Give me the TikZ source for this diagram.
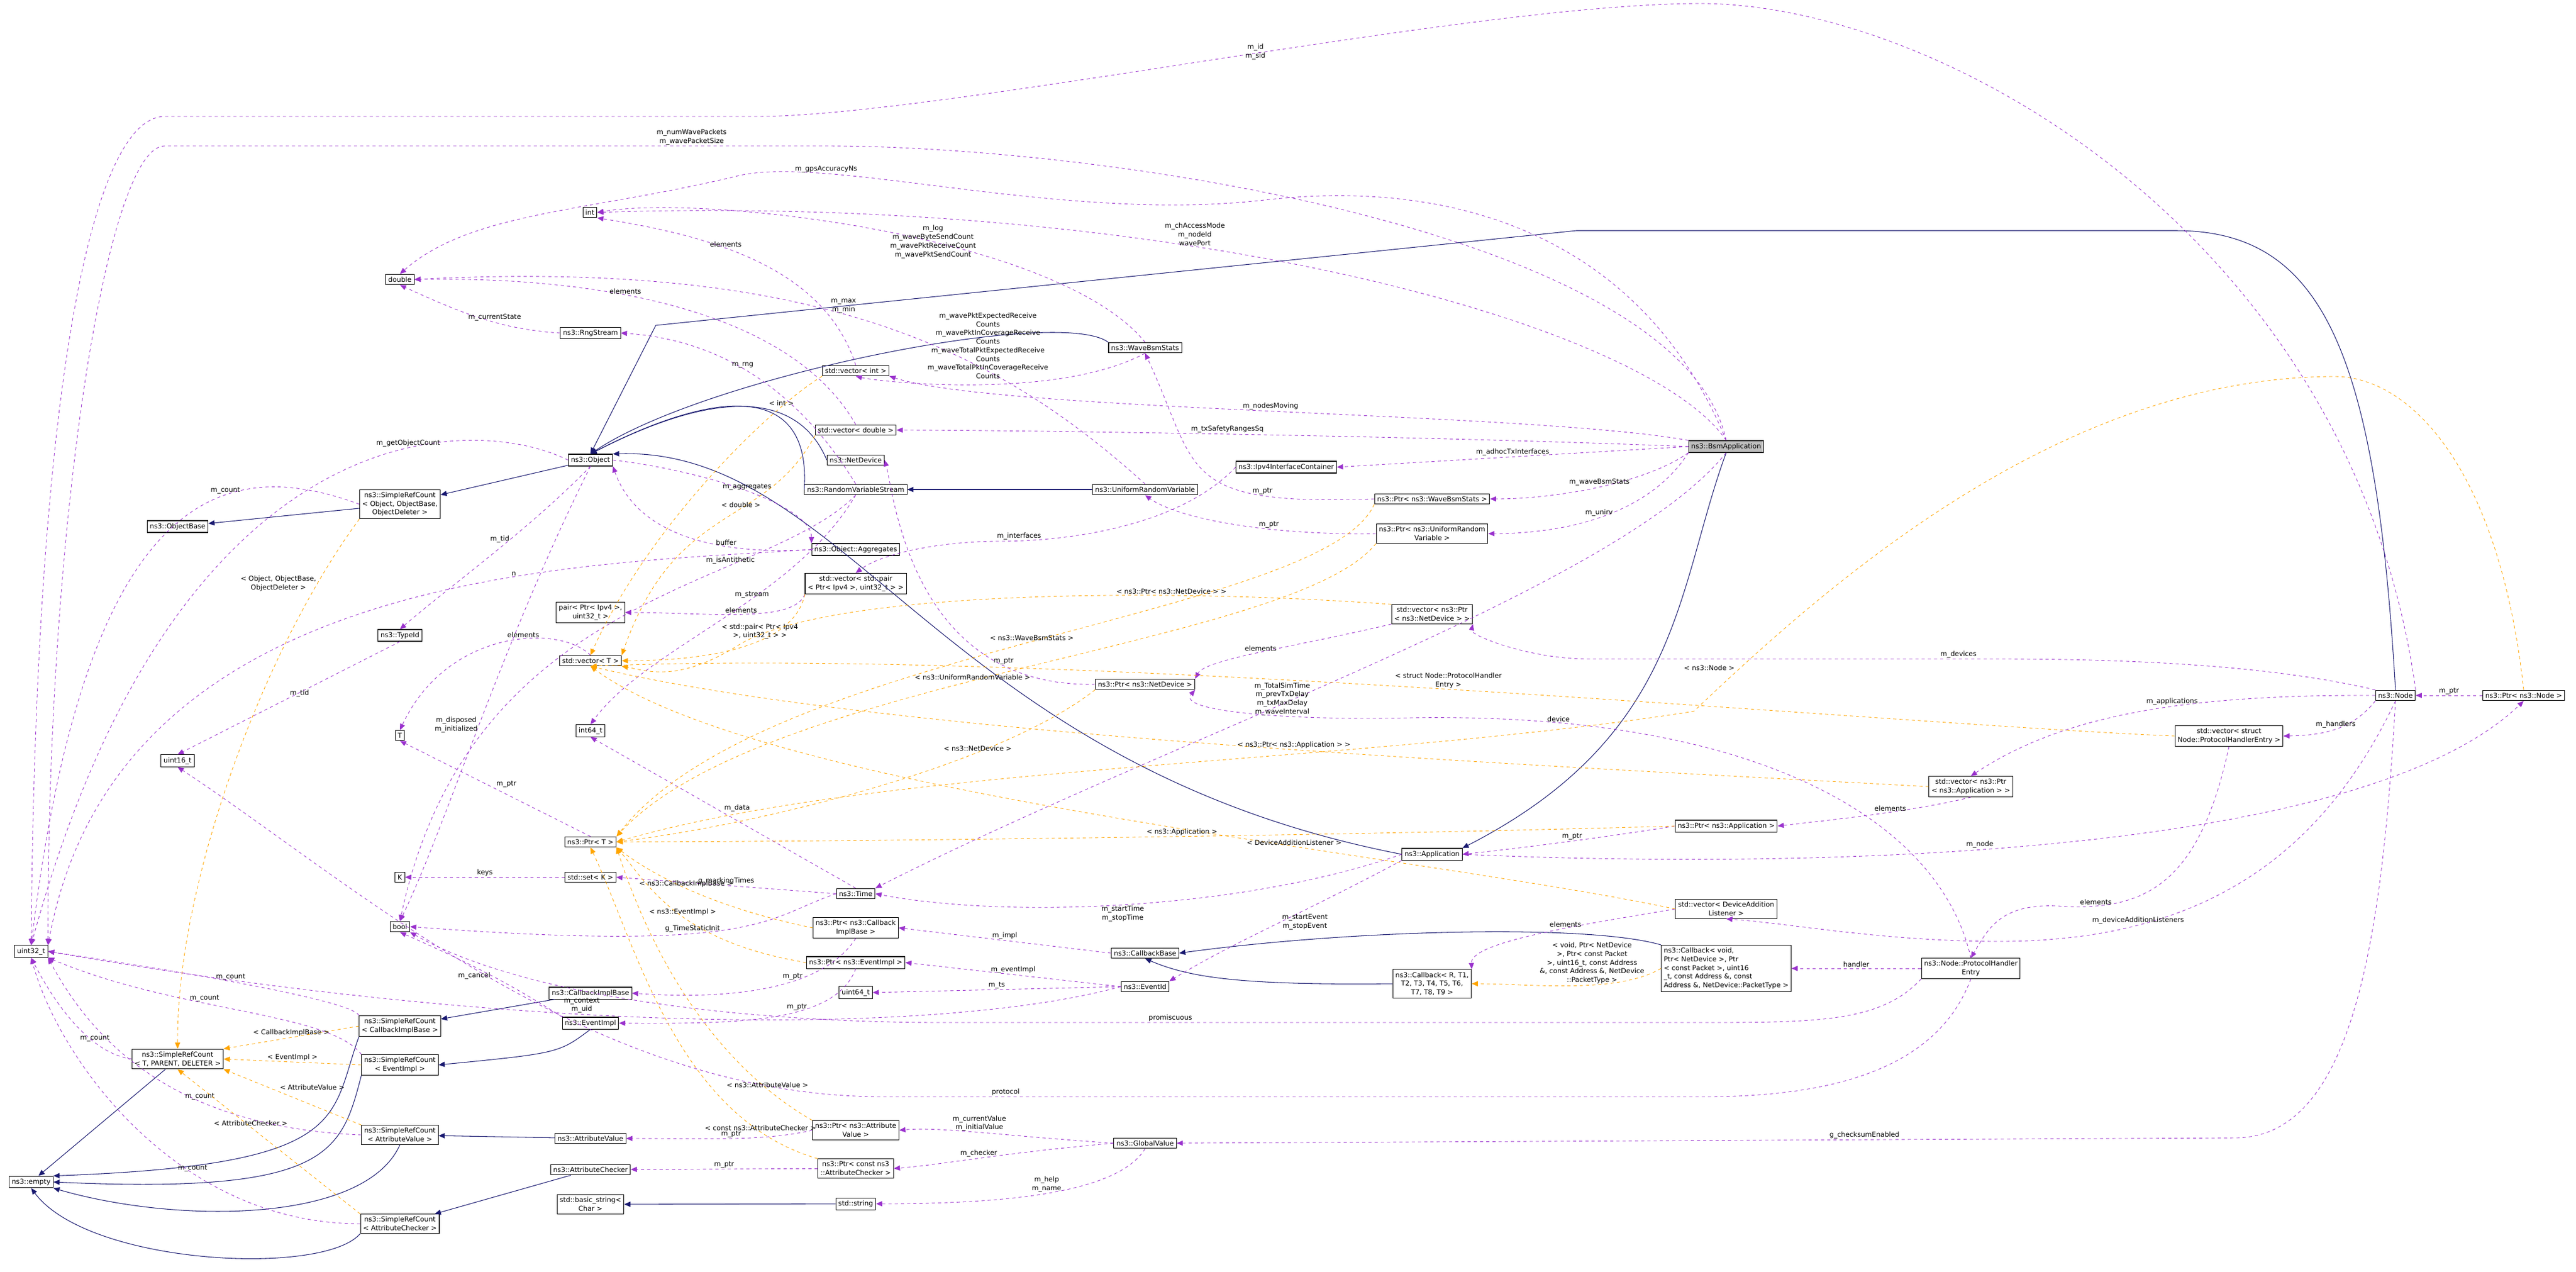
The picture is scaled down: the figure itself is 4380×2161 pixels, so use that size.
\documentclass[tikz,border=0pt]{standalone}
\usepackage{fontspec}
\setmainfont{DejaVu Sans}
\usepackage{tikz}
\usetikzlibrary{arrows.meta}
\definecolor{usecol}{HTML}{9A32CD}
\definecolor{inhcol}{HTML}{191970}
\definecolor{tplcol}{HTML}{FFA500}
\tikzset{
  cls/.style={draw,fill=white,line width=0.6pt,align=center,inner sep=2.5pt,
    font=\fontsize{6.6}{8.4}\selectfont},
  lbl/.style={font=\fontsize{6.6}{8.4}\selectfont,align=center,inner sep=1pt},
  inh/.style={draw=inhcol,line width=0.6pt,-{Triangle[length=6pt,width=5pt]}},
  use/.style={draw=usecol,dashed,line width=0.5pt,-{Triangle[length=6pt,width=5pt]}},
  tpl/.style={draw=tplcol,dashed,line width=0.5pt,-{Triangle[length=6pt,width=5pt]}}
}
\begin{document}
\begin{tikzpicture}[x=0.02cm,y=-0.02cm]
  \useasboundingbox (0,0) rectangle (4380,2161);

  \node[cls,fill=gray!50] (bsm) at (2935,759) {ns3::BsmApplication};
  \node[cls] (obj) at (1004,782) {ns3::Object};
  \node[cls] (srcobj) at (680,857) {ns3::SimpleRefCount\\< Object, ObjectBase,\\ObjectDeleter >};
  \node[cls] (objbase) at (302,895) {ns3::ObjectBase};
  \node[cls] (typeid) at (680,1080) {ns3::TypeId};
  \node[cls] (uint16) at (302,1293) {uint16\_t};
  \node[cls] (T) at (680,1250) {T};
  \node[cls] (int64) at (1004,1242) {int64\_t};
  \node[cls] (ptrT) at (1004,1431) {ns3::Ptr< T >};
  \node[cls] (K) at (680,1491) {K};
  \node[cls] (setK) at (1004,1491) {std::set< K >};
  \node[cls] (bool) at (680,1575) {bool};
  \node[cls] (uint32) at (53,1617) {uint32\_t};
  \node[cls] (empty) at (53,2009) {ns3::empty};
  \node[cls] (srctpd) at (302,1800) {ns3::SimpleRefCount\\< T, PARENT, DELETER >};
  \node[cls] (srccb) at (680,1744) {ns3::SimpleRefCount\\< CallbackImplBase >};
  \node[cls] (srcev) at (680,1810) {ns3::SimpleRefCount\\< EventImpl >};
  \node[cls] (srcav) at (680,1929) {ns3::SimpleRefCount\\< AttributeValue >};
  \node[cls] (srcac) at (680,2080) {ns3::SimpleRefCount\\< AttributeChecker >};
  \node[cls] (cbimpl) at (1004,1688) {ns3::CallbackImplBase};
  \node[cls] (evimpl) at (1004,1739) {ns3::EventImpl};
  \node[cls] (attrval) at (1004,1935) {ns3::AttributeValue};
  \node[cls] (attrchk) at (1004,1988) {ns3::AttributeChecker};
  \node[cls] (bstring) at (1004,2047) {std::basic\_string<\\Char >};
  \node[cls] (int) at (1003,361) {int};
  \node[cls] (double) at (680,475) {double};
  \node[cls] (rng) at (1004,566) {ns3::RngStream};
  \node[cls] (pair) at (1004,1041) {pair< Ptr< Ipv4 >,\\uint32\_t >};
  \node[cls] (vecT) at (1004,1123) {std::vector< T >};
  \node[cls] (vecint) at (1455,630) {std::vector< int >};
  \node[cls] (vecdbl) at (1455,731) {std::vector< double >};
  \node[cls] (netdev) at (1455,782) {ns3::NetDevice};
  \node[cls] (rvs) at (1455,832) {ns3::RandomVariableStream};
  \node[cls] (aggr) at (1455,934) {ns3::Object::Aggregates};
  \node[cls] (vecpair) at (1455,992) {std::vector< std::pair\\< Ptr< Ipv4 >, uint32\_t > >};
  \node[cls] (time) at (1455,1519) {ns3::Time};
  \node[cls] (ptrcb) at (1455,1577) {ns3::Ptr< ns3::Callback\\ImplBase >};
  \node[cls] (ptrev) at (1455,1636) {ns3::Ptr< ns3::EventImpl >};
  \node[cls] (uint64) at (1455,1687) {uint64\_t};
  \node[cls] (ptrav) at (1455,1921) {ns3::Ptr< ns3::Attribute\\Value >};
  \node[cls] (ptrac) at (1455,1986) {ns3::Ptr< const ns3\\::AttributeChecker >};
  \node[cls] (string) at (1455,2046) {std::string};
  \node[cls] (wbs) at (1947,591) {ns3::WaveBsmStats};
  \node[cls] (urv) at (1947,832) {ns3::UniformRandomVariable};
  \node[cls] (ptrnd) at (1947,1163) {ns3::Ptr< ns3::NetDevice >};
  \node[cls] (cbbase) at (1947,1620) {ns3::CallbackBase};
  \node[cls] (eventid) at (1947,1677) {ns3::EventId};
  \node[cls] (global) at (1947,1943) {ns3::GlobalValue};
  \node[cls] (ipv4) at (2187,794) {ns3::Ipv4InterfaceContainer};
  \node[cls] (ptrwbs) at (2435,848) {ns3::Ptr< ns3::WaveBsmStats >};
  \node[cls] (ptrurv) at (2435,907) {ns3::Ptr< ns3::UniformRandom\\Variable >};
  \node[cls] (vecptrnd) at (2435,1044) {std::vector< ns3::Ptr\\< ns3::NetDevice > >};
  \node[cls] (app) at (2435,1452) {ns3::Application};
  \node[cls] (cbr) at (2435,1672) {ns3::Callback< R, T1,\\T2, T3, T4, T5, T6,\\T7, T8, T9 >};
  \node[cls] (ptrapp) at (2935,1404) {ns3::Ptr< ns3::Application >};
  \node[cls] (vecdal) at (2935,1545) {std::vector< DeviceAddition\\Listener >};
  \node[cls,align=left] (cbvoid) at (2935,1646) {ns3::Callback< void,\\ Ptr< NetDevice >, Ptr\\< const Packet >, uint16\\\_t, const Address \&, const\\ Address \&, NetDevice::PacketType >};
  \node[cls] (vecapp) at (3351,1337) {std::vector< ns3::Ptr\\< ns3::Application > >};
  \node[cls] (phe) at (3351,1646) {ns3::Node::ProtocolHandler\\Entry};
  \node[cls] (vecphe) at (3790,1251) {std::vector< struct\\Node::ProtocolHandlerEntry >};
  \node[cls] (node) at (4073,1182) {ns3::Node};
  \node[cls] (ptrnode) at (4291,1182) {ns3::Ptr< ns3::Node >};

  % inheritance
  \draw[inh] (bsm.south) .. controls (2850,1000) and (2860,1250) .. (app.north east);
  \draw[inh] (app.west) .. controls (1600,1300) and (1440,760) .. (obj.north east);
  \draw[inh] (wbs.north west) .. controls (1800,520) and (1200,640) .. (obj.north);
  \draw[inh] (netdev.west) .. controls (1380,720) and (1300,620) .. (obj.north);
  \draw[inh] (rvs.west) .. controls (1380,650) and (1220,660) .. (obj.north);
  \draw[inh] (node.north) .. controls (4040,600) and (3950,392) .. (3700,392)
    -- (2680,392) -- (1115,553) -- (obj.north);
  \draw[inh] (urv) -- (rvs);
  \draw[inh] (obj) -- (srcobj);
  \draw[inh] (srcobj) -- (objbase);
  \draw[inh] (cbimpl) -- (srccb);
  \draw[inh] (evimpl.south) .. controls (950,1790) .. (srcev.east);
  \draw[inh] (attrval) -- (srcav);
  \draw[inh] (attrchk) -- (srcac);
  \draw[inh] (string) -- (bstring);
  \draw[inh] (srctpd) -- (empty);
  \draw[inh] (srccb.south west) .. controls (560,1900) and (600,1980) .. (empty.north east);
  \draw[inh] (srcev.south west) .. controls (580,1960) and (560,2030) .. (empty.east);
  \draw[inh] (srcav.south) .. controls (620,2080) and (300,2080) .. (empty.south east);
  \draw[inh] (srcac.south west) .. controls (550,2170) and (150,2150) .. (empty.south);
  \draw[inh] (cbr.west) .. controls (2100,1675) and (2020,1660) .. (cbbase.south);
  \draw[inh] (cbvoid.north west) .. controls (2700,1570) and (2300,1580) .. (cbbase.east);

  % usage
  \draw[use] (node.north east) .. controls (4000,400) and (3300,6) .. (2891,6)
    .. controls (2500,6) and (1600,198) .. node[lbl,pos=0.45,left] {m\_id\\m\_sid} (1285,198)
    -- (280,198) .. controls (150,198) and (60,700) .. (uint32.north);
  \draw[use] (bsm.north) .. controls (2860,400) and (1900,248) .. (1400,248)
    -- node[lbl,pos=0.2,above] {m\_numWavePackets\\m\_wavePacketSize} (280,248)
    .. controls (180,248) and (80,900) .. (uint32.north east);
  \draw[use] (bsm.north) .. controls (2800,420) and (2500,300) .. (2150,340)
    .. controls (1800,380) and (1400,260) .. node[lbl,pos=0.75,above] {m\_gpsAccuracyNs} (1250,300)
    .. controls (1000,360) and (800,360) .. (double.north);
  \draw[use] (bsm.north) .. controls (2800,550) and (2000,330) .. (int.east)
    node[lbl,pos=0.62,above] {m\_chAccessMode\\m\_nodeId\\wavePort};
  \draw[use] (wbs.north) .. controls (1800,400) and (1200,330) .. (int.east)
    node[lbl,pos=0.42] {m\_log\\m\_waveByteSendCount\\m\_wavePktReceiveCount\\m\_wavePktSendCount};
  \draw[use] (vecint.north) .. controls (1400,450) and (1200,400) .. (int.south east)
    node[lbl,pos=0.6,above] {elements};
  \draw[use] (urv.north) .. controls (1700,600) and (1400,440) .. (double.east)
    node[lbl,pos=0.55,above] {m\_max\\m\_min};
  \draw[use] (vecdbl.north) .. controls (1340,520) and (1000,470) .. (double.east)
    node[lbl,pos=0.6,above] {elements};
  \draw[use] (rng.west) .. controls (850,560) and (780,530) .. (double.south)
    node[lbl,pos=0.4,above] {m\_currentState};
  \draw[use] (rvs.north) .. controls (1380,700) and (1260,580) .. (rng.east)
    node[lbl,pos=0.6,above] {m\_rng};
  \draw[use] (wbs.south) .. controls (1800,680) and (1500,650) .. (vecint.south)
    node[lbl,pos=0.3,above left] {m\_wavePktExpectedReceive\\Counts\\m\_wavePktInCoverageReceive\\Counts\\m\_waveTotalPktExpectedReceive\\Counts\\m\_waveTotalPktInCoverageReceive\\Counts};
  \draw[use] (bsm.north west) .. controls (2600,700) and (1700,700) .. (vecint.south east)
    node[lbl,pos=0.5,above] {m\_nodesMoving};
  \draw[use] (bsm.west) .. controls (2400,740) and (1700,731) .. (vecdbl.east)
    node[lbl,pos=0.5,above] {m\_txSafetyRangesSq};
  \draw[use] (bsm.west) -- (ipv4.east) node[lbl,pos=0.5,above] {m\_adhocTxInterfaces};
  \draw[use] (bsm.south west) .. controls (2800,820) and (2650,848) .. (ptrwbs.east)
    node[lbl,pos=0.5,above] {m\_waveBsmStats};
  \draw[use] (bsm.south west) .. controls (2800,880) and (2650,907) .. (ptrurv.east)
    node[lbl,pos=0.5,above] {m\_unirv};
  \draw[use] (bsm.south) .. controls (2750,1000) and (2000,1250) .. (time.north east)
    node[lbl,pos=0.62,above right] {m\_TotalSimTime\\m\_prevTxDelay\\m\_txMaxDelay\\m\_waveInterval};
  \draw[use] (ptrwbs.west) .. controls (2000,860) and (2040,800) .. (wbs.south)
    node[lbl,pos=0.25,above] {m\_ptr};
  \draw[use] (ptrurv.west) .. controls (2150,910) and (2000,880) .. (urv.south)
    node[lbl,pos=0.35,above] {m\_ptr};
  \draw[use] (ptrnd.west) .. controls (1550,1170) and (1520,840) .. (netdev.east)
    node[lbl,pos=0.2,above] {m\_ptr};
  \draw[use] (ptrapp.west) .. controls (2750,1420) and (2600,1440) .. (app.east)
    node[lbl,pos=0.5,above] {m\_ptr};
  \draw[use] (ptrnode) -- (node) node[lbl,midway,above] {m\_ptr};
  \draw[use] (ipv4.west) .. controls (2000,900) and (1800,920) .. node[lbl,pos=0.9,above] {m\_interfaces} (1700,920)
    .. controls (1600,920) and (1500,940) .. (vecpair.north);
  \draw[use] (vecpair.south west) .. controls (1350,1060) and (1200,1041) .. (pair.east)
    node[lbl,pos=0.5,above] {elements};
  \draw[use] (obj.east) .. controls (1200,800) and (1380,860) .. (aggr.north west)
    node[lbl,pos=0.5,above] {m\_aggregates};
  \draw[use] (aggr.west) .. controls (1200,945) and (1080,900) .. (obj.south east)
    node[lbl,pos=0.3,above] {buffer};
  \draw[use] (aggr.west) .. controls (1000,960) and (200,960) .. (uint32.north east)
    node[lbl,pos=0.35,above] {n};
  \draw[use] (obj.west) .. controls (800,700) and (300,700) .. (uint32.north)
    node[lbl,pos=0.35,above] {m\_getObjectCount};
  \draw[use] (srcobj.west) .. controls (400,780) and (150,800) .. (uint32.north)
    node[lbl,pos=0.35,above] {m\_count};
  \draw[use] (obj.south) .. controls (900,900) and (760,1000) .. (typeid.north)
    node[lbl,pos=0.4,left] {m\_tid};
  \draw[use] (typeid.south) -- (uint16.north) node[lbl,midway,above right] {m\_tid};
  \draw[use] (rvs.south) .. controls (1300,1000) and (800,1000) .. (bool.north)
    node[lbl,pos=0.3,above] {m\_isAntithetic};
  \draw[use] (obj.south) .. controls (850,1100) and (760,1400) .. (bool.north)
    node[lbl,pos=0.5,left] {m\_disposed\\m\_initialized};
  \draw[use] (rvs.south) .. controls (1350,1020) and (1100,1100) .. (int64.north)
    node[lbl,pos=0.4,above] {m\_stream};
  \draw[use] (vecT.north) .. controls (950,1060) and (760,1070) .. (T.north)
    node[lbl,pos=0.4,above] {elements};
  \draw[use] (ptrT.north) -- (T.south) node[lbl,midway,above right] {m\_ptr};
  \draw[use] (time.north) -- (int64.south) node[lbl,midway,above right] {m\_data};
  \draw[use] (time.west) -- (setK.east) node[lbl,midway,above] {g\_markingTimes};
  \draw[use] (setK) -- (K) node[lbl,midway,above] {keys};
  \draw[use] (time.west) .. controls (1300,1560) and (1300,1620) .. (bool.east)
    node[lbl,pos=0.6,above] {g\_TimeStaticInit};
  \draw[use] (evimpl.north west) .. controls (850,1660) and (760,1620) .. (bool.south)
    node[lbl,pos=0.4,left] {m\_cancel};
  \draw[use] (ptrcb.south) .. controls (1400,1680) and (1250,1700) .. (cbimpl.east)
    node[lbl,pos=0.4,above] {m\_ptr};
  \draw[use] (ptrev.south) .. controls (1420,1740) and (1250,1740) .. (evimpl.east)
    node[lbl,pos=0.4,above] {m\_ptr};
  \draw[use] (ptrav.west) .. controls (1300,1940) and (1200,1935) .. (attrval.east)
    node[lbl,pos=0.5,above] {m\_ptr};
  \draw[use] (ptrac) -- (attrchk) node[lbl,midway,above] {m\_ptr};
  \draw[use] (cbbase.west) -- (ptrcb.east) node[lbl,midway,above] {m\_impl};
  \draw[use] (eventid.west) -- (ptrev.east) node[lbl,midway,above] {m\_eventImpl};
  \draw[use] (eventid.west) -- (uint64.east) node[lbl,midway,above] {m\_ts};
  \draw[use] (eventid.west) .. controls (1600,1760) and (900,1760) .. (uint32.east)
    node[lbl,pos=0.6,above] {m\_context\\m\_uid};
  \draw[use] (app.south west) .. controls (2200,1560) and (2100,1600) .. (eventid.north east)
    node[lbl,pos=0.45,right] {m\_startEvent\\m\_stopEvent};
  \draw[use] (app.west) .. controls (2100,1550) and (1700,1560) .. (time.east)
    node[lbl,pos=0.5,below] {m\_startTime\\m\_stopTime};
  \draw[use] (app.east) .. controls (3000,1475) and (4000,1470) .. (ptrnode.south)
    node[lbl,pos=0.45,above] {m\_node};
  \draw[use] (global.west) .. controls (1700,1930) and (1600,1915) .. (ptrav.east)
    node[lbl,pos=0.5,above] {m\_currentValue\\m\_initialValue};
  \draw[use] (global.west) .. controls (1700,1960) and (1600,1980) .. (ptrac.east)
    node[lbl,pos=0.5,above] {m\_checker};
  \draw[use] (global.south) .. controls (1900,2030) and (1700,2046) .. (string.east)
    node[lbl,pos=0.5,above] {m\_help\\m\_name};
  \draw[use] (node.south) .. controls (4050,1600) and (4000,1934) .. (3800,1934)
    -- node[lbl,pos=0.35,above] {g\_checksumEnabled} (global.east);
  \draw[use] (srccb.north west) .. controls (600,1700) and (300,1650) .. (uint32.east)
    node[lbl,pos=0.55,above] {m\_count};
  \draw[use] (srcev.north west) .. controls (560,1720) and (300,1720) .. (uint32.south east)
    node[lbl,pos=0.6,above] {m\_count};
  \draw[use] (srcav.west) .. controls (400,1920) and (200,1850) .. (uint32.south east)
    node[lbl,pos=0.45,above] {m\_count};
  \draw[use] (srcac.west) .. controls (300,2080) and (100,1800) .. (uint32.south)
    node[lbl,pos=0.35,above] {m\_count};
  \draw[use] (srctpd.west) .. controls (150,1790) and (90,1700) .. (uint32.south)
    node[lbl,pos=0.3,above] {m\_count};
  \draw[use] (vecptrnd.south west) .. controls (2200,1100) and (2050,1120) .. (ptrnd.north east)
    node[lbl,pos=0.5,above] {elements};
  \draw[use] (node.north west) .. controls (3900,1140) and (3700,1120) .. (3400,1120)
    -- node[lbl,pos=0.1,above] {m\_devices} (2700,1120)
    .. controls (2600,1120) and (2500,1080) .. (vecptrnd.south east);
  \draw[use] (node.west) .. controls (3700,1180) and (3500,1220) .. (vecapp.north)
    node[lbl,pos=0.4,above] {m\_applications};
  \draw[use] (node.south west) .. controls (4000,1240) and (3950,1250) .. (vecphe.east)
    node[lbl,pos=0.5,above] {m\_handlers};
  \draw[use] (node.south) .. controls (3950,1450) and (3750,1600) .. node[lbl,pos=0.75,above] {m\_deviceAdditionListeners} (3400,1600)
    .. controls (3200,1600) and (3050,1570) .. (vecdal.south);
  \draw[use] (vecphe.south) .. controls (3740,1500) and (3650,1550) .. node[lbl,pos=0.85,above] {elements} (3500,1540)
    .. controls (3400,1535) and (3380,1580) .. (phe.north);
  \draw[use] (vecapp.south) .. controls (3250,1380) and (3100,1395) .. (ptrapp.east)
    node[lbl,pos=0.4,above] {elements};
  \draw[use] (vecdal.west) .. controls (2700,1570) and (2500,1600) .. (cbr.north east)
    node[lbl,pos=0.4,above] {elements};
  \draw[use] (phe.west) -- (cbvoid.east) node[lbl,midway,above] {handler};
  \draw[use] (phe.north) .. controls (3300,1400) and (3000,1210) .. node[lbl,pos=0.85,above] {device} (2400,1220)
    .. controls (2200,1225) and (2000,1210) .. (ptrnd.south east);
  \draw[use] (phe.south west) .. controls (3200,1735) and (3100,1738) .. (2900,1738)
    -- node[lbl,pos=0.7,above] {promiscuous} (1600,1738)
    .. controls (1300,1738) and (900,1700) .. (bool.south east);
  \draw[use] (phe.south) .. controls (3300,1800) and (3150,1864) .. (2900,1864)
    -- node[lbl,pos=0.85,above] {protocol} (1500,1864)
    .. controls (1000,1864) and (600,1500) .. (uint16.south);

  % templates
  \draw[tpl] (srcobj.south west) .. controls (450,1100) and (300,1500) .. (srctpd.north)
    node[lbl,pos=0.15,left] {< Object, ObjectBase,\\ObjectDeleter >};
  \draw[tpl] (srccb.west) -- (srctpd.north east) node[lbl,midway,above] {< CallbackImplBase >};
  \draw[tpl] (srcev.west) -- (srctpd.east) node[lbl,midway,above] {< EventImpl >};
  \draw[tpl] (srcav.north west) -- (srctpd.south east) node[lbl,pos=0.6,above right] {< AttributeValue >};
  \draw[tpl] (srcac.north west) -- (srctpd.south) node[lbl,pos=0.6,above] {< AttributeChecker >};
  \draw[tpl] (vecint.south west) .. controls (1300,700) and (1100,900) .. (vecT.north)
    node[lbl,pos=0.2,above] {< int >};
  \draw[tpl] (vecdbl.south west) .. controls (1300,900) and (1150,850) .. (vecT.north east)
    node[lbl,pos=0.4,above] {< double >};
  \draw[tpl] (vecpair.south west) .. controls (1350,1100) and (1200,1123) .. (vecT.east)
    node[lbl,pos=0.4,above] {< std::pair< Ptr< Ipv4\\>, uint32\_t > >};
  \draw[tpl] (vecptrnd.north west) .. controls (2000,1000) and (1400,1000) .. node[lbl,pos=0.3,above] {< ns3::Ptr< ns3::NetDevice > >} (1250,1100)
    .. controls (1150,1160) and (1100,1140) .. (vecT.south east);
  \draw[tpl] (vecphe.west) .. controls (3200,1230) and (1800,1100) .. (vecT.south)
    node[lbl,pos=0.5,above] {< struct Node::ProtocolHandler\\Entry >};
  \draw[tpl] (vecapp.west) .. controls (2600,1300) and (1500,1250) .. (vecT.south)
    node[lbl,pos=0.45,above] {< ns3::Ptr< ns3::Application > >};
  \draw[tpl] (vecdal.west) .. controls (2400,1450) and (1300,1350) .. (vecT.south)
    node[lbl,pos=0.35,above] {< DeviceAdditionListener >};
  \draw[tpl] (ptrwbs.south west) .. controls (2250,1050) and (1300,1100) .. (ptrT.north east)
    node[lbl,pos=0.5,above] {< ns3::WaveBsmStats >};
  \draw[tpl] (ptrurv.south west) .. controls (2200,1100) and (1300,1150) .. (ptrT.north east)
    node[lbl,pos=0.55,above] {< ns3::UniformRandomVariable >};
  \draw[tpl] (ptrnd.south west) .. controls (1700,1300) and (1300,1400) .. (ptrT.east)
    node[lbl,pos=0.3,above] {< ns3::NetDevice >};
  \draw[tpl] (ptrnode.north) .. controls (4250,800) and (4100,640) .. (3970,640)
    .. controls (3500,640) and (3100,1000) .. node[lbl,pos=0.9,above left] {< ns3::Node >} (2880,1209)
    .. controls (2300,1300) and (1500,1300) .. (ptrT.east);
  \draw[tpl] (ptrapp.west) .. controls (2300,1420) and (1500,1430) .. (ptrT.east)
    node[lbl,pos=0.45,above] {< ns3::Application >};
  \draw[tpl] (ptrcb.west) .. controls (1200,1540) and (1100,1480) .. (ptrT.south east)
    node[lbl,pos=0.5,above] {< ns3::CallbackImplBase >};
  \draw[tpl] (ptrev.west) .. controls (1150,1600) and (1100,1500) .. (ptrT.south east)
    node[lbl,pos=0.45,above] {< ns3::EventImpl >};
  \draw[tpl] (ptrav.north west) .. controls (1200,1800) and (1100,1600) .. (ptrT.south east)
    node[lbl,pos=0.15,above] {< ns3::AttributeValue >};
  \draw[tpl] (ptrac.north west) .. controls (1150,1900) and (1080,1600) .. (ptrT.south)
    node[lbl,pos=0.15,above] {< const ns3::AttributeChecker >};
  \draw[tpl] (cbvoid.west) .. controls (2750,1690) and (2600,1672) .. (cbr.east)
    node[lbl,pos=0.4,above] {< void, Ptr< NetDevice\\>, Ptr< const Packet\\>, uint16\_t, const Address\\\&, const Address \&, NetDevice\\::PacketType >};
\end{tikzpicture}
\end{document}
